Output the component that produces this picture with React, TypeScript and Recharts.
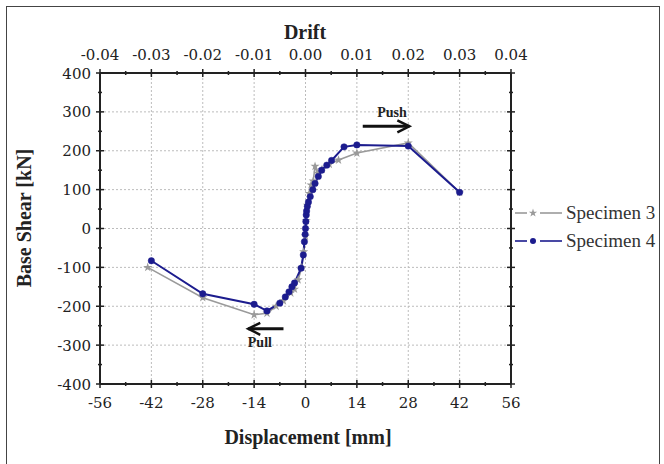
import React from 'react';
import { LineChart, Line, XAxis, YAxis, ReferenceLine, Symbols } from 'recharts';

// axis ticks (minor + major)
const dispTicks = [-56, -49, -42, -35, -28, -21, -14, -7, 0, 7, 14, 21, 28, 35, 42, 49, 56];
const dispMajor = [-56, -42, -28, -14, 0, 14, 28, 42, 56];
const shearTicks = [-400, -350, -300, -250, -200, -150, -100, -50, 0, 50, 100, 150, 200, 250, 300, 350, 400];
const shearMajor = [-400, -300, -200, -100, 0, 100, 200, 300, 400];
// drift = displacement / storey height
const storeyHeight = 1400;

// Specimen 3 (grey, stars)
const spec3Disp = [-43, -28, -14, -10.5, -8, -6, -4, -3, -2, -1, -0.5, 0, 0.2, 0.5, 1, 1.5, 2.1, 2.6, 3.3, 4.5, 6.5, 9, 14, 28, 42];
const spec3Shear = [-100, -178, -222, -218, -200, -186, -166, -156, -132, -100, -60, -20, 20, 60, 90, 112, 122, 160, 142, 152, 165, 176, 194, 220, 93];

// Specimen 4 (blue, dots)
const spec4Disp = [-42, -28, -14, -10.5, -7, -5.5, -4.5, -3.7, -3, -1.2, -0.6, -0.3, -0.1, 0, 0.1, 0.2, 0.3, 0.5, 0.8, 1.3, 2, 2.6, 3.5, 4.4, 5.8, 7.1, 10.5, 14, 28, 42];
const spec4Shear = [-83, -168, -195, -212, -192, -176, -163, -150, -140, -102, -68, -34, -15, 0, 18, 35, 45, 57, 68, 82, 100, 116, 134, 150, 163, 175, 210, 215, 212, 93];

const spec3 = spec3Disp.map((x, i) => ({ x, y: spec3Shear[i] }));
const spec4 = spec4Disp.map((x, i) => ({ x, y: spec4Shear[i] }));

// dotted grid at the major ticks, drawn as two-point lines through the chart scales
const gridV = dispMajor.slice(1, -1).map((v) => [{ x: v, y: shearMajor[0] }, { x: v, y: shearMajor[shearMajor.length - 1] }]);
const gridH = shearMajor.slice(1, -1).map((v) => [{ x: dispMajor[0], y: v }, { x: dispMajor[dispMajor.length - 1], y: v }]);

const BLUE = '#1c1c8e';
const GREY = '#9a9a9a';
const GRID = '#bcbcbc';
const TICK_FONT = '"DejaVu Serif", serif';
const TITLE_FONT = '"Liberation Serif", "Times New Roman", serif';

const AxisTick = (props: any) => {
  const { x, y, payload, side, majors, fmt } = props;
  const v = payload.value;
  const major = majors.some((m: number) => Math.abs(m - v) < 1e-9);
  const label = fmt ? fmt(v) : String(v);
  const d = major ? 4 : 2;
  const txt = { fontFamily: TICK_FONT, fontSize: 15, fill: '#222' };
  if (side === 'bottom' || side === 'top') {
    return (
      <g>
        <line x1={x} x2={x} y1={y - d} y2={y + d} stroke="#222" strokeWidth={1.5} />
        {major && (
          <text x={x} y={side === 'bottom' ? y + 24 : y - 13} textAnchor="middle" {...txt}>
            {label}
          </text>
        )}
      </g>
    );
  }
  return (
    <g>
      <line x1={x - d} x2={x + d} y1={y} y2={y} stroke="#222" strokeWidth={1.5} />
      {major && side === 'left' && (
        <text x={x - 9} y={y + 5.5} textAnchor="end" {...txt}>
          {label}
        </text>
      )}
    </g>
  );
};

const Arrow = (props: any) => {
  const { x1, y1, x2, y2, text, below } = props;
  const dir = Math.sign(x2 - x1);
  const mid = (x1 + x2) / 2;
  return (
    <g>
      <line x1={x1} y1={y1} x2={x2} y2={y2} stroke="#111" strokeWidth={3} />
      <polyline
        points={`${x2 - dir * 12},${y2 - 6} ${x2},${y2} ${x2 - dir * 12},${y2 + 6}`}
        fill="none"
        stroke="#111"
        strokeWidth={2.5}
      />
      <text
        x={mid + dir * 6}
        y={below ? y1 + 18 : y1 - 9}
        textAnchor="middle"
        fontFamily={TITLE_FONT}
        fontWeight="bold"
        fontSize={14}
        fill="#222"
      >
        {text}
      </text>
    </g>
  );
};

const StarDot = (p: any) => (
  <Symbols key={`s3-${p.index}`} cx={p.cx} cy={p.cy} type="star" size={26} fill={GREY} stroke="none" />
);

const LegendRow = ({ color, star, label }: { color: string; star: boolean; label: string }) => (
  <div style={{ display: 'flex', alignItems: 'center', height: 28 }}>
    <svg width={50} height={14}>
      <line x1={1} x2={13} y1={7} y2={7} stroke={color} strokeWidth={1.6} />
      <line x1={26} x2={48} y1={7} y2={7} stroke={color} strokeWidth={1.6} />
      {star ? (
        <Symbols cx={19} cy={7} type="star" size={22} fill={color} />
      ) : (
        <circle cx={19} cy={7} r={3} fill={color} />
      )}
    </svg>
    <span style={{ fontFamily: TITLE_FONT, fontSize: 19, color: '#333', marginLeft: 2 }}>{label}</span>
  </div>
);

const axisCommon = {
  type: 'number' as const,
  interval: 0 as const,
  allowDataOverflow: true,
  tickSize: 0,
  tickMargin: 0,
  tickLine: false,
  axisLine: { stroke: '#222', strokeWidth: 2 },
};

const App: React.FC = () => {
  return (
    <div style={{ position: 'absolute', left: 0, top: 0, width: 664, height: 464, background: '#fff', overflow: 'hidden' }}>
      <div style={{ position: 'absolute', left: 6, top: 6, width: 652, height: 480, border: '1.5px solid #444' }} />
      <div style={{ position: 'absolute', left: 0, top: 0 }}>
        <LineChart width={664} height={464} margin={{ top: 72, right: 152, bottom: 79, left: 99 }}>
          <XAxis
            {...axisCommon}
            xAxisId="d"
            dataKey="x"
            domain={[-56, 56]}
            ticks={dispTicks}
            height={1}
            tick={(p: any) => <AxisTick {...p} side="bottom" majors={dispMajor} />}
          />
          {/* top axis: same displacement scale, labelled as drift */}
          <XAxis
            {...axisCommon}
            xAxisId="drift"
            orientation="top"
            dataKey="x"
            domain={[-56, 56]}
            ticks={dispTicks}
            height={1}
            tick={(p: any) => (
              <AxisTick
                {...p}
                side="top"
                majors={dispMajor}
                fmt={(v: number) => (v / storeyHeight).toFixed(2)}
              />
            )}
          />
          <YAxis
            {...axisCommon}
            yAxisId="v"
            domain={[-400, 400]}
            ticks={shearTicks}
            width={1}
            tick={(p: any) => <AxisTick {...p} side="left" majors={shearMajor} />}
          />
          <YAxis
            {...axisCommon}
            yAxisId="r"
            orientation="right"
            domain={[-400, 400]}
            ticks={shearTicks}
            width={1}
            tick={(p: any) => <AxisTick {...p} side="right" majors={shearMajor} />}
          />
          {gridV.concat(gridH).map((seg, i) => (
            <Line
              key={`grid-${i}`}
              xAxisId="d"
              yAxisId="v"
              data={seg}
              dataKey="y"
              stroke={GRID}
              strokeWidth={1}
              strokeDasharray="2 2"
              dot={false}
              activeDot={false}
              legendType="none"
              isAnimationActive={false}
            />
          ))}
          <ReferenceLine
            xAxisId="d"
            yAxisId="v"
            segment={[{ x: 15.6, y: 263 }, { x: 28.3, y: 263 }]}
            shape={(p: any) => <Arrow {...p} text="Push" />}
          />
          <ReferenceLine
            xAxisId="d"
            yAxisId="v"
            segment={[{ x: -6, y: -258 }, { x: -15.6, y: -258 }]}
            shape={(p: any) => <Arrow {...p} text="Pull" below />}
          />
          <Line
            xAxisId="drift"
            yAxisId="v"
            data={spec3}
            dataKey="y"
            stroke={GREY}
            strokeWidth={1.6}
            dot={StarDot}
            activeDot={false}
            isAnimationActive={false}
          />
          <Line
            xAxisId="d"
            yAxisId="v"
            data={spec4}
            dataKey="y"
            stroke={BLUE}
            strokeWidth={2}
            dot={{ r: 3.2, fill: BLUE, stroke: BLUE, strokeWidth: 0.5 }}
            activeDot={false}
            isAnimationActive={false}
          />
        </LineChart>
      </div>
      <div
        style={{
          position: 'absolute', left: 305, top: 32, transform: 'translate(-50%, -50%)',
          fontFamily: TITLE_FONT, fontWeight: 'bold', fontSize: 20, lineHeight: 1, color: '#222',
        }}
      >
        Drift
      </div>
      <div
        style={{
          position: 'absolute', left: 308, top: 437, transform: 'translate(-50%, -50%)',
          fontFamily: TITLE_FONT, fontWeight: 'bold', fontSize: 20, lineHeight: 1, color: '#222', whiteSpace: 'nowrap',
        }}
      >
        Displacement [mm]
      </div>
      <div
        style={{
          position: 'absolute', left: 24, top: 218, transform: 'translate(-50%, -50%) rotate(-90deg)',
          fontFamily: TITLE_FONT, fontWeight: 'bold', fontSize: 20, lineHeight: 1, color: '#222', whiteSpace: 'nowrap',
        }}
      >
        Base Shear [kN]
      </div>
      <div style={{ position: 'absolute', left: 514, top: 199 }}>
        <LegendRow color={GREY} star label="Specimen 3" />
        <LegendRow color={BLUE} star={false} label="Specimen 4" />
      </div>
    </div>
  );
};

export default App;
